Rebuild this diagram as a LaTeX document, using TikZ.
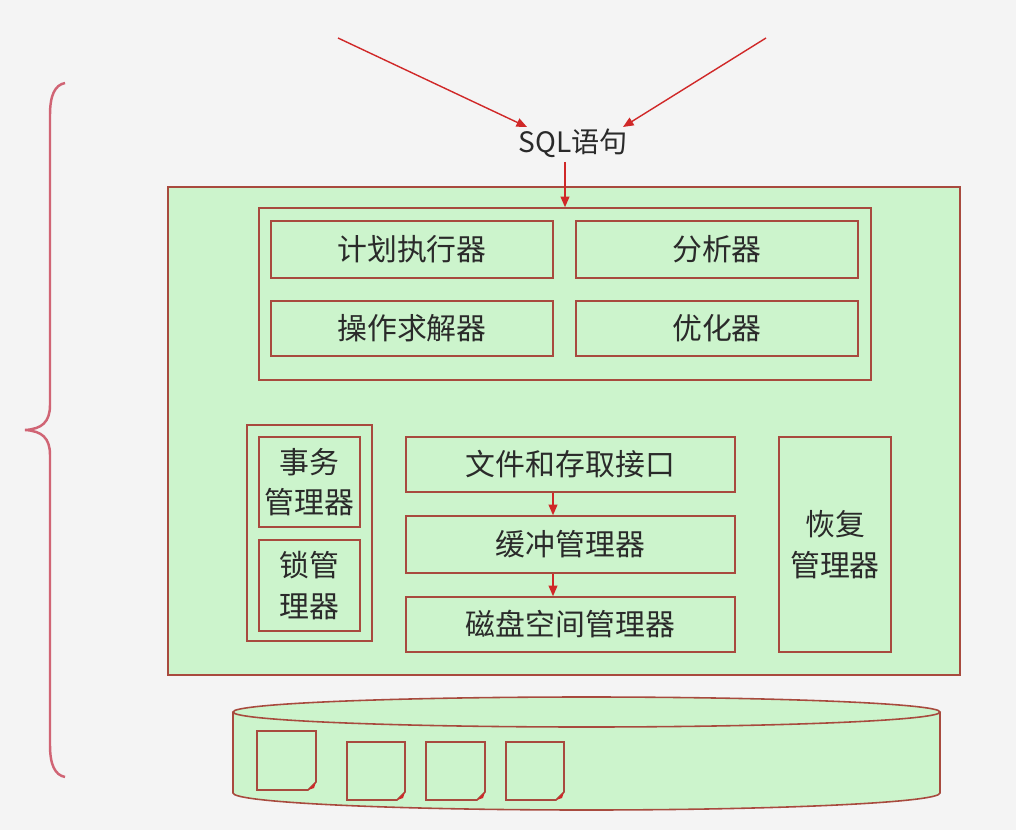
\documentclass[tikz,border=0pt]{standalone}
\usepackage{fontspec}
\setmainfont{Noto Sans CJK SC}
\usetikzlibrary{arrows.meta}
\definecolor{bgc}{HTML}{F4F4F4}
\definecolor{boxfill}{HTML}{CCF4CC}
\definecolor{boxline}{HTML}{A84A3E}
\definecolor{arrowred}{HTML}{D02828}
\definecolor{txt}{HTML}{2A2A2A}
\definecolor{bracec}{HTML}{D06474}
\begin{document}
\begin{tikzpicture}[x=0.02cm,y=-0.02cm,
  box/.style={draw=boxline,fill=boxfill,line width=0.9pt,inner sep=0pt,text=txt,
    font=\fontsize{17}{23}\selectfont,align=center},
  arr/.style={draw=arrowred,line width=0.8pt,-{Triangle[length=6pt,width=5pt]}},
  page/.style={draw=boxline,fill=boxfill,line width=0.9pt}]
\useasboundingbox (0,0) rectangle (1016,830);
\fill[bgc] (0,0) rectangle (1016,830);
% brace
\draw[bracec,line width=1.4pt] (65,83) .. controls (55,85) and (50,95) .. (50,115) -- (50,405)
  .. controls (50,422) and (42,429) .. (25,430) .. controls (42,431) and (50,438) .. (50,455)
  -- (50,745) .. controls (50,765) and (55,775) .. (65,777);
% outer box
\node[box,minimum width=15.84cm,minimum height=9.76cm] (outer) at (564,431) {};
\node[box,minimum width=12.24cm,minimum height=3.44cm] (upper) at (565,294) {};
\node[box,minimum width=5.64cm,minimum height=1.14cm] (jh) at (412,249.5) {计划执行器};
\node[box,minimum width=5.64cm,minimum height=1.14cm] (fx) at (717,249.5) {分析器};
\node[box,minimum width=5.64cm,minimum height=1.1cm] (cz) at (412,328.5) {操作求解器};
\node[box,minimum width=5.64cm,minimum height=1.1cm] (yh) at (717,328.5) {优化器};
\node[box,minimum width=2.5cm,minimum height=4.32cm] (lg) at (309.5,533) {};
\node[box,minimum width=2.02cm,minimum height=1.8cm] (sw) at (309.5,482) {事务\\管理器};
\node[box,minimum width=2.02cm,minimum height=1.82cm] (suo) at (309.5,585.5) {锁管\\理器};
\node[box,minimum width=6.58cm,minimum height=1.1cm] (wj) at (570.5,464.5) {文件和存取接口};
\node[box,minimum width=6.58cm,minimum height=1.14cm] (hc) at (570.5,544.5) {缓冲管理器};
\node[box,minimum width=6.58cm,minimum height=1.1cm] (cp) at (570.5,624.5) {磁盘空间管理器};
\node[box,minimum width=2.24cm,minimum height=4.3cm] (hf) at (835,544.5) {恢复\\管理器};
\draw[arr] ([xshift=-0.35cm]wj.south) -- ([xshift=-0.35cm]hc.north);
\draw[arr] ([xshift=-0.35cm]hc.south) -- ([xshift=-0.35cm]cp.north);
% SQL
\node[text=txt,font=\fontsize{16}{19}\selectfont,inner sep=1pt] (sql) at (573,143) {SQL语句};
\coordinate (inL) at (338,38);
\coordinate (inR) at (766,38);
\coordinate (endL) at (527,127);
\coordinate (endR) at (623,127);
\draw[arr] (inL) -- (endL);
\draw[arr] (inR) -- (endR);
\draw[arr] (565,162) -- (upper.north);
% cylinder
\fill[boxfill] (233,712) -- (233,793) arc[start angle=180,end angle=360,x radius=353.5,y radius=-17] -- (940,712) -- cycle;
\fill[boxfill] (586.5,712) ellipse[x radius=353.5,y radius=15];
\draw[boxline,line width=0.9pt] (233,712) -- (233,793) arc[start angle=180,end angle=360,x radius=353.5,y radius=-17] -- (940,712);
\draw[boxline,line width=0.9pt] (586.5,712) ellipse[x radius=353.5,y radius=15];
% pages
\foreach \x/\y/\w/\h in {257/731/59/59,347/742/58/58,426/742/59/58,506/742/58/58}{
  \draw[page] (\x,\y) -- (\x+\w,\y) -- (\x+\w,\y+\h-8) -- (\x+\w-8,\y+\h) -- (\x,\y+\h) -- cycle;
  \fill[arrowred] (\x+\w,\y+\h-8) -- (\x+\w-8,\y+\h) -- (\x+\w-2,\y+\h-2) -- cycle;
}
\end{tikzpicture}
\end{document}
